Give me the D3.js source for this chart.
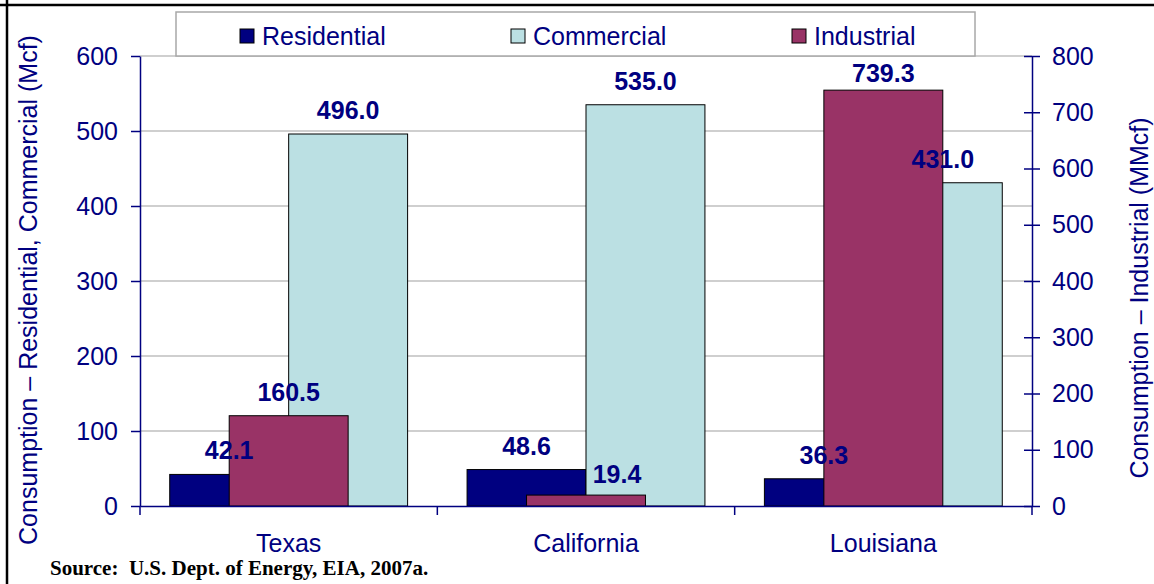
<!DOCTYPE html>
<html>
<head>
<meta charset="utf-8">
<title>Consumption by state</title>
<script src="https://cdn.jsdelivr.net/npm/d3@7"></script>
<style>
body { margin: 0; background: #fff; }
svg { display: block; font-family: "Liberation Sans", Arial, sans-serif; }
.axis text { font-size: 25px; fill: #000080; }
.axis path, .axis line { stroke: #000080; stroke-width: 1.5; }
</style>
</head>
<body>
<script>
// data
var categories = ["Texas", "California", "Louisiana"];
var residential = [42.1, 48.6, 36.3];
var commercial = [496.0, 535.0, 431.0];
var industrial = [160.5, 19.4, 739.3];
var leftTicks = [0, 100, 200, 300, 400, 500, 600];
var rightTicks = [0, 100, 200, 300, 400, 500, 600, 700, 800];
var seriesNames = ["Residential", "Commercial", "Industrial"];
var seriesColors = ["#000080", "#BBE0E3", "#993366"];

var W = 1154, H = 584;
var plot = {left: 140, right: 1032, top: 56, bottom: 506};
var navy = "#000080";

var svg = d3.select("body").append("svg")
  .attr("width", W)
  .attr("height", H);

// page frame (top + left black rule)
svg.append("line").attr("x1", 0).attr("x2", W).attr("y1", 5).attr("y2", 5)
  .attr("stroke", "#000").attr("stroke-width", 2.5);
svg.append("line").attr("x1", 7).attr("x2", 7).attr("y1", 0).attr("y2", H)
  .attr("stroke", "#000").attr("stroke-width", 2.5);

// scales
var x0 = d3.scaleBand().domain(categories).range([plot.left, plot.right]);
var x1 = d3.scaleBand().domain(["Residential", "Commercial"])
  .range([0, x0.bandwidth()]).paddingInner(0).paddingOuter(0.25);
var xi = d3.scaleBand().domain(["Industrial"])
  .range([0, x0.bandwidth()]).paddingOuter(0.75);
var y = d3.scaleLinear().domain([0, 600]).range([plot.bottom, plot.top]);
var y2 = d3.scaleLinear().domain([0, 800]).range([plot.bottom, plot.top]);

// gridlines
svg.append("g").selectAll("line")
  .data(leftTicks.slice(1))
  .join("line")
  .attr("x1", plot.left).attr("x2", plot.right)
  .attr("y1", d => y(d)).attr("y2", d => y(d))
  .attr("stroke", "#a0a0a0").attr("stroke-width", 1.2);

// legend
var lg = svg.append("g").attr("transform", "translate(176,12)");
lg.append("rect").attr("width", 799).attr("height", 44)
  .attr("fill", "#fff").attr("stroke", "#a8a8a8").attr("stroke-width", 1.5);
var legendX = [64, 335, 616];
var items = lg.selectAll("g.item").data(seriesNames).join("g")
  .attr("class", "item")
  .attr("transform", (d, i) => "translate(" + legendX[i] + ",0)");
items.append("rect").attr("x", 0).attr("y", 17).attr("width", 14).attr("height", 14)
  .attr("fill", (d, i) => seriesColors[i]).attr("stroke", "#000").attr("stroke-width", 1);
items.append("text").attr("x", 22).attr("y", 24)
  .attr("dominant-baseline", "central")
  .style("font-size", "25px").style("fill", navy)
  .text(d => d);

// bars
var rows = categories.map(function(c, i) {
  return {cat: c, res: residential[i], com: commercial[i], ind: industrial[i]};
});

svg.append("g").selectAll("rect").data(rows).join("rect")
  .attr("x", d => x0(d.cat) + x1("Residential"))
  .attr("width", x1.bandwidth())
  .attr("y", d => y(d.res))
  .attr("height", d => y(0) - y(d.res))
  .attr("fill", seriesColors[0]).attr("stroke", "#000").attr("stroke-width", 1);

svg.append("g").selectAll("rect").data(rows).join("rect")
  .attr("x", d => x0(d.cat) + x1("Commercial"))
  .attr("width", x1.bandwidth())
  .attr("y", d => y(d.com))
  .attr("height", d => y(0) - y(d.com))
  .attr("fill", seriesColors[1]).attr("stroke", "#000").attr("stroke-width", 1);

svg.append("g").selectAll("rect").data(rows).join("rect")
  .attr("x", d => x0(d.cat) + xi("Industrial"))
  .attr("width", xi.bandwidth())
  .attr("y", d => y2(d.ind))
  .attr("height", d => y2(0) - y2(d.ind))
  .attr("fill", seriesColors[2]).attr("stroke", "#000").attr("stroke-width", 1);

// value labels (kept inside the plot area); the small California industrial
// label was moved right in the original so it clears the residential bar
function labelY(v) { return Math.max(v - 15, plot.top + 26); }
var nudge = {"California-Industrial": 31};
var labels = [];
rows.forEach(function(d) {
  labels.push({x: x0(d.cat) + x1("Residential") + x1.bandwidth() / 2, y: labelY(y(d.res)), v: d.res});
  labels.push({x: x0(d.cat) + x1("Commercial") + x1.bandwidth() / 2, y: labelY(y(d.com)), v: d.com});
  labels.push({x: x0(d.cat) + xi("Industrial") + xi.bandwidth() / 2 + (nudge[d.cat + "-Industrial"] || 0),
    y: labelY(y2(d.ind)) + (nudge[d.cat + "-Industrial"] ? 3 : 0), v: d.ind});
});
svg.append("g").selectAll("text").data(labels).join("text")
  .attr("x", d => d.x).attr("y", d => d.y)
  .attr("text-anchor", "middle")
  .style("font-size", "25px").style("font-weight", "bold").style("fill", navy)
  .text(d => d3.format(".1f")(d.v));

// left axis
svg.append("g").attr("class", "axis")
  .attr("transform", "translate(" + plot.left + ",0)")
  .call(d3.axisLeft(y).tickValues(leftTicks).tickSize(9).tickSizeOuter(0).tickPadding(13));

// right axis with crossing ticks
var ra = svg.append("g").attr("class", "axis")
  .attr("transform", "translate(" + plot.right + ",0)")
  .call(d3.axisRight(y2).tickValues(rightTicks).tickSize(8).tickSizeOuter(0).tickPadding(12));
ra.selectAll(".tick line").attr("x1", -8);

// bottom axis
var ba = svg.append("g").attr("class", "axis")
  .attr("transform", "translate(0," + plot.bottom + ")")
  .call(d3.axisBottom(x0).tickSize(0).tickPadding(28));
ba.selectAll(".tick text").attr("dy", "0.71em");
var bounds = categories.map(c => x0(c)).concat([x0.range()[1]]);
ba.selectAll("line.sep").data(bounds).join("line")
  .attr("class", "sep")
  .attr("x1", d => d).attr("x2", d => d)
  .attr("y1", 0).attr("y2", 9);

// axis titles
svg.append("text")
  .attr("transform", "translate(37,290) rotate(-90)")
  .attr("text-anchor", "middle")
  .style("font-size", "25px").style("fill", navy)
  .text("Consumption \u2013 Residential, Commercial (Mcf)");

svg.append("text")
  .attr("transform", "translate(1148,298) rotate(-90)")
  .attr("text-anchor", "middle")
  .style("font-size", "25px").style("fill", navy)
  .text("Consumption \u2013 Industrial (MMcf)");

// source note
svg.append("text")
  .attr("x", 50).attr("y", 575)
  .style("font-family", "'Liberation Serif', 'Times New Roman', serif")
  .style("font-size", "21px").style("font-weight", "bold")
  .style("white-space", "pre")
  .text("Source:  U.S. Dept. of Energy, EIA, 2007a.");
</script>
</body>
</html>
